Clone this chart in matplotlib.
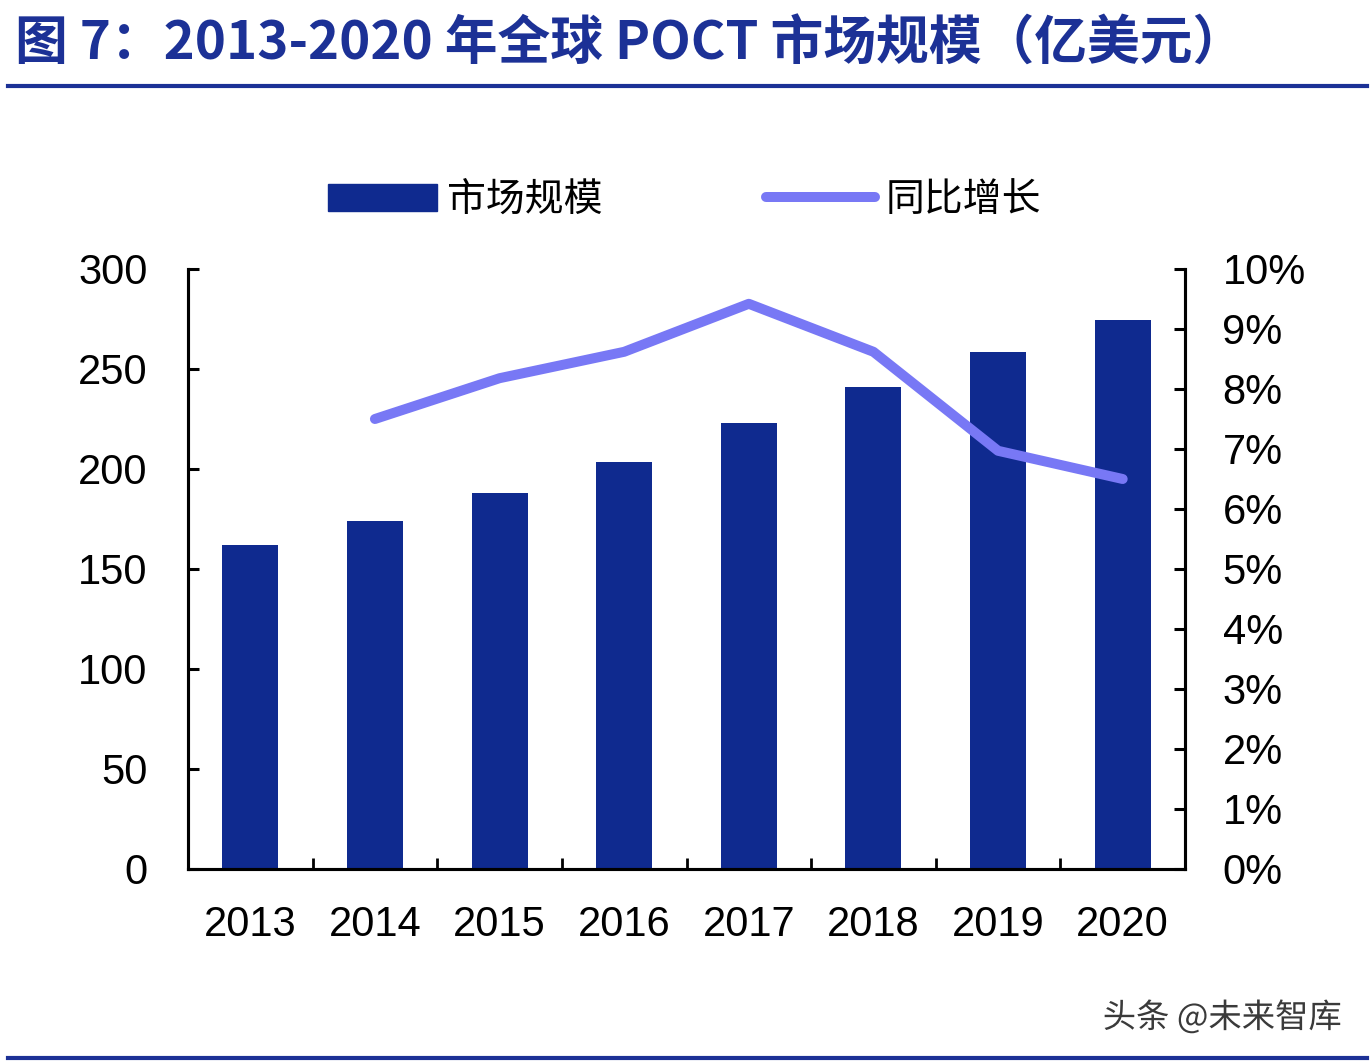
import matplotlib
matplotlib.use("Agg")
import matplotlib.pyplot as plt
from matplotlib.lines import Line2D
from matplotlib.patches import Patch
import matplotlib.patheffects as pe

years = ["2013", "2014", "2015", "2016", "2017", "2018", "2019", "2020"]
market_size = [162, 174, 188, 203.5, 223, 241, 258.5, 274.5]
growth_years = ["2014", "2015", "2016", "2017", "2018", "2019", "2020"]
growth_pct = [7.5, 8.18, 8.62, 9.42, 8.62, 6.97, 6.5]
left_ticks = [0, 50, 100, 150, 200, 250, 300]
right_ticks = list(range(0, 11))

BAR_C = "#0f2a8f"
LINE_C = "#7878f5"
TITLE_C = "#1c3196"
CJK = ["Noto Sans CJK SC", "DejaVu Sans"]
LAT = ["Liberation Sans", "DejaVu Sans"]

fig = plt.figure(figsize=(13.72, 10.64), dpi=100)
fig.patch.set_facecolor("white")

ax = fig.add_axes([188/1372, 1-869/1064, (1185-188)/1372, 600/1064])
ax2 = ax.twinx()

x = list(range(len(years)))
ax.bar(x, market_size, width=0.45, color=BAR_C, zorder=2)
gx = [years.index(y) for y in growth_years]
ax2.plot(gx, growth_pct, color=LINE_C, lw=7.2, solid_capstyle="round",
         solid_joinstyle="round", zorder=3)

ax.set_xlim(-0.5, len(years) - 0.5)
ax.set_ylim(0, 300)
ax2.set_ylim(0, 10)

ax.set_yticks(left_ticks)
ax.set_yticklabels([str(v) for v in left_ticks], fontfamily=LAT, fontsize=30)
ax2.set_yticks(right_ticks)
ax2.set_yticklabels([f"{v}%" for v in right_ticks], fontfamily=LAT, fontsize=30)

ax.set_xticks(x)
ax.set_xticklabels(years, fontfamily=LAT, fontsize=30)
ax.set_xticks([i + 0.5 for i in x[:-1]], minor=True)
ax.tick_params(axis="x", which="major", length=0, pad=26)
ax.tick_params(axis="x", which="minor", direction="in", length=8, width=2)
ax.tick_params(axis="y", direction="in", length=8, width=2.2, pad=29)
ax2.tick_params(axis="y", direction="in", length=8, width=2.2, pad=27)

for a in (ax, ax2):
    a.spines["top"].set_visible(False)
    for s in ("left", "right", "bottom"):
        a.spines[s].set_linewidth(2.2)
        a.spines[s].set_color("black")
    a.patch.set_visible(False)

handles = [Patch(facecolor=BAR_C, edgecolor=BAR_C),
           Line2D([0], [0], color=LINE_C, lw=7.2, solid_capstyle="round")]
fig.legend(handles, ["市场规模", "同比增长"], loc="center",
           bbox_to_anchor=(0.499, 1-200/1064), ncol=2, frameon=False,
           prop={"family": CJK, "size": 28}, handlelength=2.8,
           handleheight=0.7, handletextpad=0.28, columnspacing=4.2)

fig.text(15/1372, 1-44/1064, "图 7：2013-2020 年全球 POCT 市场规模（亿美元）",
         fontfamily=CJK, fontsize=38, fontweight="bold", color=TITLE_C,
         ha="left", va="center")
fig.add_artist(Line2D([8/1372, 1367/1372], [1-86/1064, 1-86/1064],
                      color=TITLE_C, lw=3))
fig.add_artist(Line2D([8/1372, 1367/1372], [1-1058/1064, 1-1058/1064],
                      color=TITLE_C, lw=3))

fig.text(1342/1372, 1-1018/1064, "头条 @未来智库", fontfamily=CJK, fontsize=24,
         color="#3a3a3a", ha="right", va="center",
         path_effects=[pe.withStroke(linewidth=3, foreground="white")])

fig.savefig("out.png", dpi=100, facecolor="white")
